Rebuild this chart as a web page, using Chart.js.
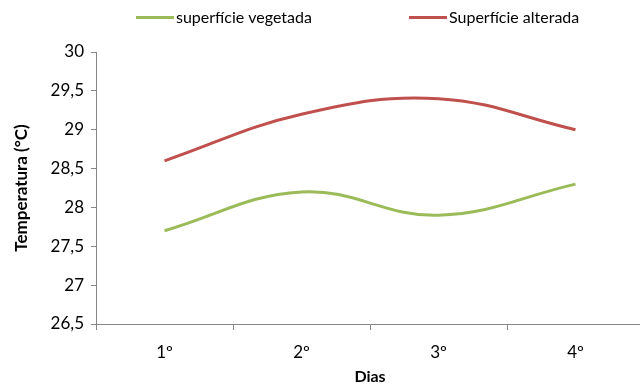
<!DOCTYPE html>
<html><head><meta charset="utf-8">
<script src="https://cdn.jsdelivr.net/npm/chart.js@4/dist/chart.umd.min.js"></script>
<style>html,body{margin:0;padding:0;background:#fff;overflow:hidden}#w{width:646px;height:385px}</style>
</head><body><div id="w"><canvas id="c"></canvas></div>
<script>
const categories = ['1º','2º','3º','4º'];
const vegetada = [27.7, 28.2, 27.9, 28.3];
const alterada = [28.6, 29.2, 29.4, 29.0];
const seriesNames = ['superfície vegetada','Superfície alterada'];
const FONT = 'Lato';
const legendPlugin = {
  id:'customLegend',
  afterDraw(chart){
    const ctx = chart.ctx;
    const spots = [{x:136, w:38}, {x:409, w:38}];
    ctx.save();
    ctx.font = '16px ' + FONT;
    ctx.textBaseline = 'middle';
    chart.data.datasets.forEach((ds,i)=>{
      const s = spots[i];
      ctx.strokeStyle = ds.borderColor; ctx.lineWidth = 3;
      ctx.beginPath(); ctx.moveTo(s.x,17.5); ctx.lineTo(s.x+s.w,17.5); ctx.stroke();
      ctx.fillStyle = '#000';
      ctx.fillText(ds.label, s.x+s.w+2, 18);
    });
    ctx.restore();
  }
};
new Chart(document.getElementById('c'), {
  type: 'line',
  data: {
    labels: categories,
    datasets: [
      {label: seriesNames[0], data: vegetada, borderColor:'#9BBB59', backgroundColor:'#9BBB59', borderWidth:3, pointRadius:0, tension:0.4},
      {label: seriesNames[1], data: alterada, borderColor:'#C0504D', backgroundColor:'#C0504D', borderWidth:3, pointRadius:0, tension:0.4}
    ]
  },
  plugins:[legendPlugin],
  options: {
    responsive:true, maintainAspectRatio:false, animation:false,
    layout:{padding:{left:0,right:2,top:52,bottom:0}},
    plugins:{ tooltip:{enabled:false}, legend:{display:false} },
    scales:{
      x:{offset:true,
        afterFit:s=>{s.height=61;},
        grid:{offset:true, drawOnChartArea:false, tickLength:6, color:'#868686'},
        border:{color:'#868686'},
        ticks:{color:'#000', font:{family:FONT,size:17}, padding:12, maxRotation:0},
        title:{display:true,text:'Dias',color:'#000',font:{family:FONT,size:16,weight:'bold',lineHeight:1},padding:{top:0,bottom:0}}
      },
      y:{min:26.5,max:30,
        afterFit:s=>{s.width=96;},
        grid:{drawOnChartArea:false, tickLength:5, color:'#868686'},
        border:{color:'#868686'},
        ticks:{stepSize:0.5, color:'#000', font:{family:FONT,size:17}, padding:7,
          callback:v=>String(v).replace('.',',')},
        title:{display:true,text:'Temperatura (°C)',color:'#000',font:{family:FONT,size:17,weight:'bold'},padding:{top:11,bottom:0}}
      }
    }
  }
});
</script>
</body></html>
